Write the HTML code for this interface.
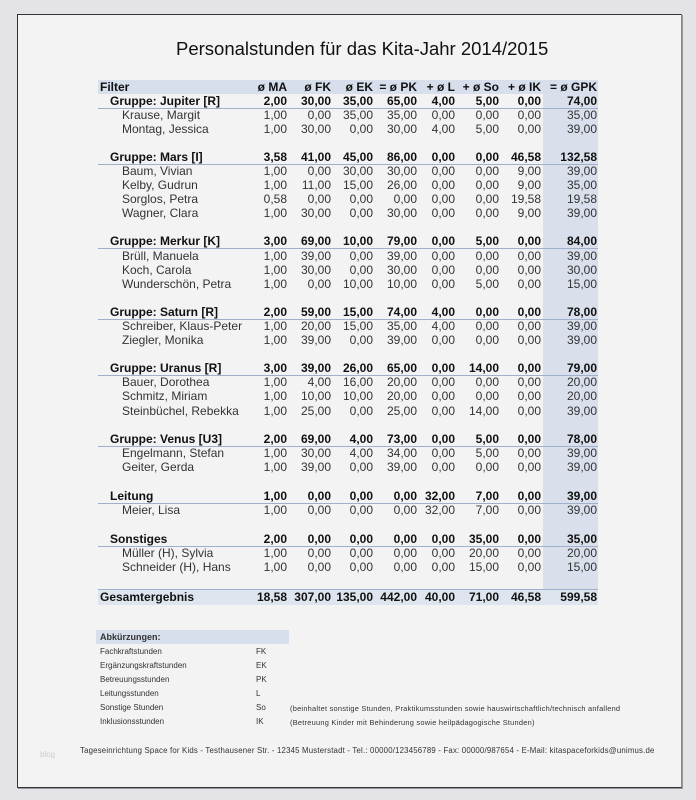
<!DOCTYPE html>
<html><head><meta charset="utf-8"><style>
body{margin:0;width:696px;height:800px;background:#e4e4e8;font-family:"Liberation Sans",Arial,sans-serif;position:relative;overflow:hidden}
.page{position:absolute;left:17px;top:14px;width:663px;height:772px;background:#f3f3f3;border:1px solid #333;border-right-color:#888;box-shadow:1px 1px 0 #999}
.t{position:absolute;left:176px;width:372px;top:38px;text-align:center;font-size:18.5px;color:#111;white-space:nowrap}
.shade{position:absolute;left:543px;top:94px;width:55px;height:496px;background:#d9e0ec}
.hdr{position:absolute;left:98px;top:80px;width:500px;height:14px;background:#d7dfec}
.tot{position:absolute;left:98px;top:589px;width:500px;height:15px;background:#dfe5ef;border-top:1px solid #9fb0cc}
.r{position:absolute;left:0;height:14px;width:696px;font-size:12px;line-height:14px;color:#333}
.r span{position:absolute;white-space:nowrap}
.b{font-weight:bold;color:#111}
.g{border-bottom:1px solid #9fb0cc;width:500px;left:98px}
.g span{margin-left:-98px}
.n{left:122px}.gl{left:110px}
.c1,.c2,.c3,.c4,.c5,.c6,.c7,.c8{text-align:right;width:60px}
.c1{left:227px}.c2{left:271px}.c3{left:313px}.c4{left:357px}.c5{left:395px}.c6{left:439px}.c7{left:481px}.c8{left:537px}
.s{position:absolute;font-size:8px;color:#333;white-space:nowrap}
</style></head><body>
<div class="page"></div>
<div class="t">Personalstunden für das Kita-Jahr 2014/2015</div>
<div class="shade"></div>
<div class="hdr"></div>
<div class="tot"></div>

<div class="r b" style="top:80px"><span style="left:100px">Filter</span><span class="c1">ø MA</span><span class="c2">ø FK</span><span class="c3">ø EK</span><span class="c4">= ø PK</span><span class="c5">+ ø L</span><span class="c6">+ ø So</span><span class="c7">+ ø IK</span><span class="c8">= ø GPK</span></div>

<div class="r b g" style="top:94px"><span class="gl">Gruppe: Jupiter [R]</span><span class="c1">2,00</span><span class="c2">30,00</span><span class="c3">35,00</span><span class="c4">65,00</span><span class="c5">4,00</span><span class="c6">5,00</span><span class="c7">0,00</span><span class="c8">74,00</span></div>
<div class="r" style="top:108px"><span class="n">Krause, Margit</span><span class="c1">1,00</span><span class="c2">0,00</span><span class="c3">35,00</span><span class="c4">35,00</span><span class="c5">0,00</span><span class="c6">0,00</span><span class="c7">0,00</span><span class="c8">35,00</span></div>
<div class="r" style="top:122px"><span class="n">Montag, Jessica</span><span class="c1">1,00</span><span class="c2">30,00</span><span class="c3">0,00</span><span class="c4">30,00</span><span class="c5">4,00</span><span class="c6">5,00</span><span class="c7">0,00</span><span class="c8">39,00</span></div>

<div class="r b g" style="top:150px"><span class="gl">Gruppe: Mars [I]</span><span class="c1">3,58</span><span class="c2">41,00</span><span class="c3">45,00</span><span class="c4">86,00</span><span class="c5">0,00</span><span class="c6">0,00</span><span class="c7">46,58</span><span class="c8">132,58</span></div>
<div class="r" style="top:164px"><span class="n">Baum, Vivian</span><span class="c1">1,00</span><span class="c2">0,00</span><span class="c3">30,00</span><span class="c4">30,00</span><span class="c5">0,00</span><span class="c6">0,00</span><span class="c7">9,00</span><span class="c8">39,00</span></div>
<div class="r" style="top:178px"><span class="n">Kelby, Gudrun</span><span class="c1">1,00</span><span class="c2">11,00</span><span class="c3">15,00</span><span class="c4">26,00</span><span class="c5">0,00</span><span class="c6">0,00</span><span class="c7">9,00</span><span class="c8">35,00</span></div>
<div class="r" style="top:192px"><span class="n">Sorglos, Petra</span><span class="c1">0,58</span><span class="c2">0,00</span><span class="c3">0,00</span><span class="c4">0,00</span><span class="c5">0,00</span><span class="c6">0,00</span><span class="c7">19,58</span><span class="c8">19,58</span></div>
<div class="r" style="top:206px"><span class="n">Wagner, Clara</span><span class="c1">1,00</span><span class="c2">30,00</span><span class="c3">0,00</span><span class="c4">30,00</span><span class="c5">0,00</span><span class="c6">0,00</span><span class="c7">9,00</span><span class="c8">39,00</span></div>

<div class="r b g" style="top:234px"><span class="gl">Gruppe: Merkur [K]</span><span class="c1">3,00</span><span class="c2">69,00</span><span class="c3">10,00</span><span class="c4">79,00</span><span class="c5">0,00</span><span class="c6">5,00</span><span class="c7">0,00</span><span class="c8">84,00</span></div>
<div class="r" style="top:249px"><span class="n">Brüll, Manuela</span><span class="c1">1,00</span><span class="c2">39,00</span><span class="c3">0,00</span><span class="c4">39,00</span><span class="c5">0,00</span><span class="c6">0,00</span><span class="c7">0,00</span><span class="c8">39,00</span></div>
<div class="r" style="top:263px"><span class="n">Koch, Carola</span><span class="c1">1,00</span><span class="c2">30,00</span><span class="c3">0,00</span><span class="c4">30,00</span><span class="c5">0,00</span><span class="c6">0,00</span><span class="c7">0,00</span><span class="c8">30,00</span></div>
<div class="r" style="top:277px"><span class="n">Wunderschön, Petra</span><span class="c1">1,00</span><span class="c2">0,00</span><span class="c3">10,00</span><span class="c4">10,00</span><span class="c5">0,00</span><span class="c6">5,00</span><span class="c7">0,00</span><span class="c8">15,00</span></div>

<div class="r b g" style="top:305px"><span class="gl">Gruppe: Saturn [R]</span><span class="c1">2,00</span><span class="c2">59,00</span><span class="c3">15,00</span><span class="c4">74,00</span><span class="c5">4,00</span><span class="c6">0,00</span><span class="c7">0,00</span><span class="c8">78,00</span></div>
<div class="r" style="top:319px"><span class="n">Schreiber, Klaus-Peter</span><span class="c1">1,00</span><span class="c2">20,00</span><span class="c3">15,00</span><span class="c4">35,00</span><span class="c5">4,00</span><span class="c6">0,00</span><span class="c7">0,00</span><span class="c8">39,00</span></div>
<div class="r" style="top:333px"><span class="n">Ziegler, Monika</span><span class="c1">1,00</span><span class="c2">39,00</span><span class="c3">0,00</span><span class="c4">39,00</span><span class="c5">0,00</span><span class="c6">0,00</span><span class="c7">0,00</span><span class="c8">39,00</span></div>

<div class="r b g" style="top:361px"><span class="gl">Gruppe: Uranus [R]</span><span class="c1">3,00</span><span class="c2">39,00</span><span class="c3">26,00</span><span class="c4">65,00</span><span class="c5">0,00</span><span class="c6">14,00</span><span class="c7">0,00</span><span class="c8">79,00</span></div>
<div class="r" style="top:375px"><span class="n">Bauer, Dorothea</span><span class="c1">1,00</span><span class="c2">4,00</span><span class="c3">16,00</span><span class="c4">20,00</span><span class="c5">0,00</span><span class="c6">0,00</span><span class="c7">0,00</span><span class="c8">20,00</span></div>
<div class="r" style="top:389px"><span class="n">Schmitz, Miriam</span><span class="c1">1,00</span><span class="c2">10,00</span><span class="c3">10,00</span><span class="c4">20,00</span><span class="c5">0,00</span><span class="c6">0,00</span><span class="c7">0,00</span><span class="c8">20,00</span></div>
<div class="r" style="top:404px"><span class="n">Steinbüchel, Rebekka</span><span class="c1">1,00</span><span class="c2">25,00</span><span class="c3">0,00</span><span class="c4">25,00</span><span class="c5">0,00</span><span class="c6">14,00</span><span class="c7">0,00</span><span class="c8">39,00</span></div>

<div class="r b g" style="top:432px"><span class="gl">Gruppe: Venus [U3]</span><span class="c1">2,00</span><span class="c2">69,00</span><span class="c3">4,00</span><span class="c4">73,00</span><span class="c5">0,00</span><span class="c6">5,00</span><span class="c7">0,00</span><span class="c8">78,00</span></div>
<div class="r" style="top:446px"><span class="n">Engelmann, Stefan</span><span class="c1">1,00</span><span class="c2">30,00</span><span class="c3">4,00</span><span class="c4">34,00</span><span class="c5">0,00</span><span class="c6">5,00</span><span class="c7">0,00</span><span class="c8">39,00</span></div>
<div class="r" style="top:460px"><span class="n">Geiter, Gerda</span><span class="c1">1,00</span><span class="c2">39,00</span><span class="c3">0,00</span><span class="c4">39,00</span><span class="c5">0,00</span><span class="c6">0,00</span><span class="c7">0,00</span><span class="c8">39,00</span></div>

<div class="r b g" style="top:489px"><span class="gl">Leitung</span><span class="c1">1,00</span><span class="c2">0,00</span><span class="c3">0,00</span><span class="c4">0,00</span><span class="c5">32,00</span><span class="c6">7,00</span><span class="c7">0,00</span><span class="c8">39,00</span></div>
<div class="r" style="top:503px"><span class="n">Meier, Lisa</span><span class="c1">1,00</span><span class="c2">0,00</span><span class="c3">0,00</span><span class="c4">0,00</span><span class="c5">32,00</span><span class="c6">7,00</span><span class="c7">0,00</span><span class="c8">39,00</span></div>

<div class="r b g" style="top:532px"><span class="gl">Sonstiges</span><span class="c1">2,00</span><span class="c2">0,00</span><span class="c3">0,00</span><span class="c4">0,00</span><span class="c5">0,00</span><span class="c6">35,00</span><span class="c7">0,00</span><span class="c8">35,00</span></div>
<div class="r" style="top:546px"><span class="n">Müller (H), Sylvia</span><span class="c1">1,00</span><span class="c2">0,00</span><span class="c3">0,00</span><span class="c4">0,00</span><span class="c5">0,00</span><span class="c6">20,00</span><span class="c7">0,00</span><span class="c8">20,00</span></div>
<div class="r" style="top:560px"><span class="n">Schneider (H), Hans</span><span class="c1">1,00</span><span class="c2">0,00</span><span class="c3">0,00</span><span class="c4">0,00</span><span class="c5">0,00</span><span class="c6">15,00</span><span class="c7">0,00</span><span class="c8">15,00</span></div>

<div class="r b" style="top:590px"><span style="left:100px">Gesamtergebnis</span><span class="c1">18,58</span><span class="c2">307,00</span><span class="c3">135,00</span><span class="c4">442,00</span><span class="c5">40,00</span><span class="c6">71,00</span><span class="c7">46,58</span><span class="c8">599,58</span></div>

<div style="position:absolute;left:96px;top:630px;width:193px;height:14px;background:#d7dfec"></div>
<div class="s" style="left:100px;top:632px;font-weight:bold;font-size:9px">Abkürzungen:</div>
<div class="s" style="left:100px;top:647px">Fachkraftstunden</div><div class="s" style="left:256px;top:647px">FK</div>
<div class="s" style="left:100px;top:661px">Ergänzungskraftstunden</div><div class="s" style="left:256px;top:661px">EK</div>
<div class="s" style="left:100px;top:675px">Betreuungsstunden</div><div class="s" style="left:256px;top:675px">PK</div>
<div class="s" style="left:100px;top:689px">Leitungsstunden</div><div class="s" style="left:256px;top:689px">L</div>
<div class="s" style="left:100px;top:703px">Sonstige Stunden</div><div class="s" style="left:256px;top:703px">So</div>
<div class="s" style="left:290px;top:704px;font-size:7.4px;letter-spacing:0.25px">(beinhaltet sonstige Stunden, Praktikumsstunden sowie hauswirtschaftlich/technisch anfallend</div>
<div class="s" style="left:100px;top:717px">Inklusionsstunden</div><div class="s" style="left:256px;top:717px">IK</div>
<div class="s" style="left:290px;top:718px;font-size:7.4px;letter-spacing:0.25px">(Betreuung Kinder mit Behinderung sowie heilpädagogische Stunden)</div>
<div class="s" style="left:40px;top:750px;color:#ccc">blog</div>
<div class="s" style="left:80px;top:746px;font-size:7.8px;letter-spacing:0.2px">Tageseinrichtung Space for Kids - Testhausener Str. - 12345 Musterstadt - Tel.: 00000/123456789 - Fax: 00000/987654 - E-Mail: kitaspaceforkids@unimus.de</div>
</body></html>
